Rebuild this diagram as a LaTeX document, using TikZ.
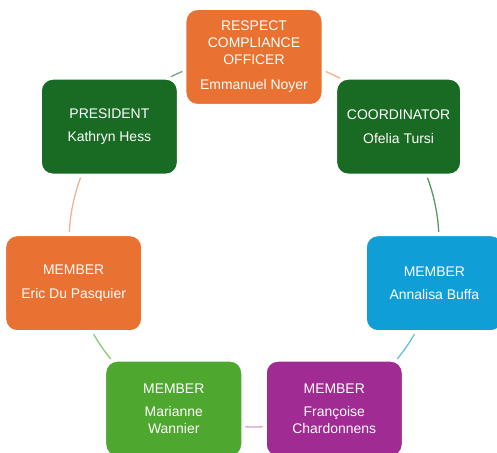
\documentclass[tikz,border=0pt]{standalone}
\usepackage{fontspec}
\setmainfont{Liberation Sans}
\usetikzlibrary{backgrounds}
\definecolor{accOrange}{HTML}{E97132}
\definecolor{accDkGreen}{HTML}{196B24}
\definecolor{accBlue}{HTML}{0F9ED5}
\definecolor{accPurple}{HTML}{A02B93}
\definecolor{accGreen}{HTML}{4EA72E}
\tikzset{
  member/.style={rectangle, rounded corners=13bp, draw=white, line width=4bp,
    minimum width=139bp, minimum height=98bp, inner sep=0pt, text=white,
    align=center, font=\fontsize{14}{16.7}\selectfont},
  link/.style={line width=1.3bp, line cap=round},
}
\begin{document}
\begin{tikzpicture}[x=1bp, y=1bp]
  \useasboundingbox (-254,-211) rectangle (243,242);
  % 1. Boxes round the circle (radius 185bp)
  \node[member, fill=accOrange] (officer) at (90:185bp)
    {RESPECT\\COMPLIANCE\\OFFICER\\[9pt]Emmanuel Noyer};
  \node[member, fill=accDkGreen, minimum width=127bp] (coord) at (38.57:185bp)
    {COORDINATOR\\[7pt]Ofelia Tursi};
  \node[member, fill=accBlue] (annalisa) at (-12.86:185bp)
    {MEMBER\\[7pt]Annalisa Buffa};
  \node[member, fill=accPurple] (francoise) at (-64.29:185bp)
    {MEMBER\\[7pt]Françoise\\Chardonnens};
  \node[member, fill=accGreen] (marianne) at (-115.71:185bp)
    {MEMBER\\[7pt]Marianne\\Wannier};
  \node[member, fill=accOrange] (eric) at (-167.14:185bp)
    {MEMBER\\[7pt]Eric Du Pasquier};
  \node[member, fill=accDkGreen] (president) at (141.43:185bp)
    {PRESIDENT\\[7pt]Kathryn Hess};

  % 2. Arcs of the cycle, behind the boxes
  \begin{pgfonlayer}{background}
    \draw[link, accOrange!55!white] (officer.center)
      arc[start angle=90, end angle=38.57, radius=185bp];
    \draw[link, accDkGreen!70!white] (coord.center)
      arc[start angle=38.57, end angle=-12.86, radius=185bp];
    \draw[link, accBlue!65!white] (annalisa.center)
      arc[start angle=-12.86, end angle=-64.29, radius=185bp];
    \draw[link, accPurple!45!white] (francoise.center)
      arc[start angle=-64.29, end angle=-115.71, radius=185bp];
    \draw[link, accGreen!65!white] (marianne.center)
      arc[start angle=-115.71, end angle=-167.14, radius=185bp];
    \draw[link, accOrange!55!white] (eric.center)
      arc[start angle=-167.14, end angle=-218.57, radius=185bp];
    \draw[link, accDkGreen!60!white] (president.center)
      arc[start angle=141.43, end angle=90, radius=185bp];
  \end{pgfonlayer}
\end{tikzpicture}
\end{document}
